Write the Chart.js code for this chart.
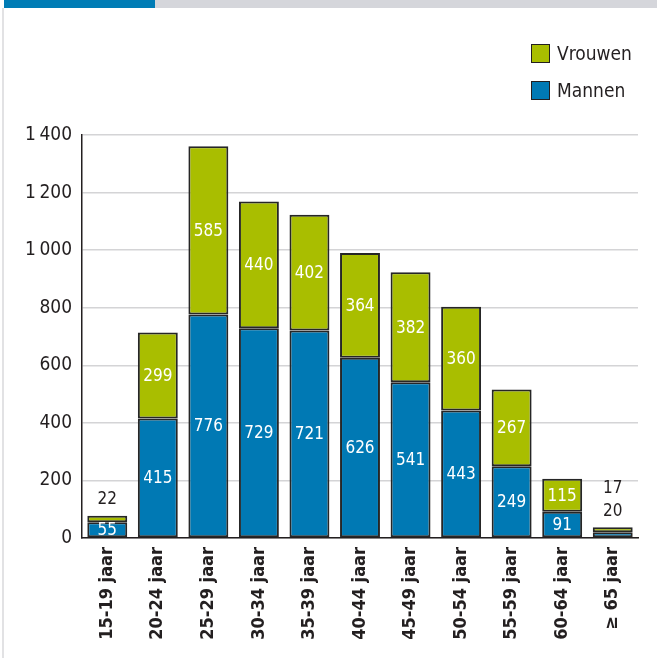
<!DOCTYPE html>
<html>
<head>
<meta charset="utf-8">
<script src="https://cdn.jsdelivr.net/npm/chart.js@4/dist/chart.umd.min.js"></script>
<style>
  html, body { margin: 0; padding: 0; background: #fff; }
  body { width: 657px; height: 658px; position: relative; overflow: hidden;
         font-family: "Liberation Sans Narrow", "DejaVu Sans Condensed", sans-serif; }
  #band-blue { position: absolute; left: 4px; top: 0; width: 151px; height: 8px; background: #007cb5; }
  #band-grey { position: absolute; left: 155px; top: 0; right: 0; height: 8px; background: #d5d6db; }
  #edge { position: absolute; left: 2px; top: 8px; width: 2px; bottom: 0; background: #e2e2e4; }
  #wrap { position: absolute; left: 0; top: 0; width: 657px; height: 658px; }
  .leg { position: absolute; left: 531px; height: 20px; display: flex; align-items: center;
         font-size: 19px; color: #231f20; }
  .leg .sw { width: 17px; height: 17px; border: 1.5px solid #231f20; margin-right: 7px; }
</style>
</head>
<body>
<div id="band-blue"></div>
<div id="band-grey"></div>
<div id="edge"></div>
<div id="wrap"><canvas id="c" width="657" height="658"></canvas></div>
<div class="leg" style="top:43px"><div class="sw" style="background:#a9be00"></div>Vrouwen</div>
<div class="leg" style="top:80px"><div class="sw" style="background:#0079b4"></div>Mannen</div>
<script>
// Age groups and head counts per sex
const categories = ["15-19 jaar", "20-24 jaar", "25-29 jaar", "30-34 jaar", "35-39 jaar",
                    "40-44 jaar", "45-49 jaar", "50-54 jaar", "55-59 jaar", "60-64 jaar", "\u2265 65 jaar"];
const mannen  = [55, 415, 776, 729, 721, 626, 541, 443, 249, 91, 20];
const vrouwen = [22, 299, 585, 440, 402, 364, 382, 360, 267, 115, 17];
const yTicks  = [0, 200, 400, 600, 800, 1000, 1200, 1400];

const FONT = '"Liberation Sans Narrow", "DejaVu Sans Condensed", sans-serif';

// Writes each value inside its segment, or above the bar when the segment is too thin
const valueLabels = {
  id: 'valueLabels',
  afterDatasetsDraw(chart) {
    const ctx = chart.ctx;
    ctx.save();
    ctx.font = '17px ' + FONT;
    ctx.textAlign = 'center';
    ctx.textBaseline = 'middle';
    const n = chart.data.labels.length;
    for (let i = 0; i < n; i++) {
      let above = 0;
      let topY = Infinity;
      chart.data.datasets.forEach((ds, d) => {
        const el = chart.getDatasetMeta(d).data[i];
        topY = Math.min(topY, el.y);
      });
      chart.data.datasets.forEach((ds, d) => {
        const el = chart.getDatasetMeta(d).data[i];
        const v = ds.data[i];
        const h = Math.abs(el.base - el.y);
        if (h >= 14) {
          ctx.fillStyle = '#ffffff';
          ctx.fillText(String(v), el.x, (el.y + el.base) / 2 + 1);
        } else {
          ctx.fillStyle = '#231f20';
          ctx.fillText(String(v), el.x, topY - 16 - above * 23);
          above++;
        }
      });
    }
    ctx.restore();
  }
};

new Chart(document.getElementById('c'), {
  type: 'bar',
  data: {
    labels: categories,
    datasets: [
      { label: 'Mannen', data: mannen, backgroundColor: '#0079b4',
        borderColor: '#262626', borderWidth: 2, borderSkipped: false },
      { label: 'Vrouwen', data: vrouwen, backgroundColor: '#a9be00',
        borderColor: '#262626', borderWidth: 2, borderSkipped: false }
    ]
  },
  options: {
    responsive: false,
    animation: false,
    devicePixelRatio: 1,
    layout: { padding: { top: 135, right: 19, left: 0, bottom: 0 } },
    datasets: { bar: { categoryPercentage: 1.0, barPercentage: 0.79 } },
    plugins: { legend: { display: false }, tooltip: { enabled: false } },
    scales: {
      x: {
        stacked: true,
        grid: { display: false, drawTicks: false },
        border: { color: '#231f20', width: 1.5 },
        ticks: {
          minRotation: 90, maxRotation: 90, padding: 9, autoSkip: false,
          color: '#231f20', font: { family: FONT, size: 18, weight: 'bold' }
        },
        afterFit(scale) { scale.height = 120; }
      },
      y: {
        stacked: true,
        min: 0, max: 1400,
        afterBuildTicks(scale) { scale.ticks = yTicks.map(v => ({ value: v })); },
        grid: { color: '#d4d4d6', lineWidth: 1.5, drawTicks: false },
        border: { color: '#231f20', width: 1.5 },
        ticks: {
          padding: 10, color: '#231f20', font: { family: FONT, size: 19 },
          callback: v => String(v).replace(/\B(?=(\d{3})+(?!\d))/g, '\u2009')
        },
        afterFit(scale) { scale.width = 82; }
      }
    }
  },
  plugins: [valueLabels]
});
</script>
</body>
</html>
